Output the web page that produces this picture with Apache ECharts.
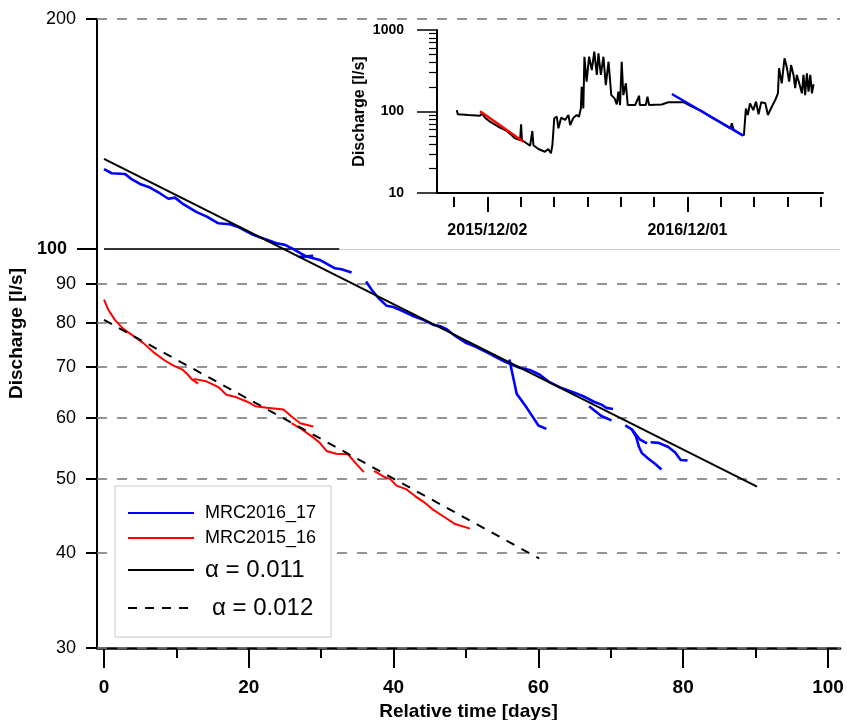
<!DOCTYPE html>
<html><head><meta charset="utf-8">
<script src="https://cdn.jsdelivr.net/npm/echarts@6/dist/echarts.min.js"></script>
<style>html,body{margin:0;padding:0;background:#fff}#c{width:847px;height:720px}</style>
</head><body><div id="c"></div>
<script>
const FONT = 'Liberation Sans, Arial, Helvetica, sans-serif';

// ---------- main chart data ----------
const xMajorTicks = [0, 20, 40, 60, 80, 100];
const xMinorTicks = [10, 30, 50, 70, 90];
const yTickValues = [30, 40, 50, 60, 70, 80, 90, 100, 200];
const yGridValues = [30, 40, 50, 60, 70, 80, 90, 200];
const refValue = 100;
const refBlackEnd = 32.5;

const blueSeg1 = [[0,127.2],[1.06,125.6],[2.9,125.3],[3.8,123.4],[4.97,121.6],[6.35,120.3],[7.5,118.6],[8.4,117.1],[8.9,116.3],[9.1,117.0],[9.8,116.7],[10.95,114.4],[12.8,111.7],[14.2,110.2],[15.8,108.0],[17.4,107.7],[18.55,106.8],[20.6,104.3],[22.2,103.0],[23.85,101.7],[25.0,101.2],[26.1,100.0],[27.3,98.5],[28.0,97.7],[29.8,96.7],[31.9,94.3],[32.8,94.0],[34.2,93.1]];
const blueSeg2 = [[27.0,97.6],[28.9,97.9]];
const blueSeg3 = [[36.2,90.6],[36.97,88.4],[37.9,86.2],[39.05,84.2],[39.96,83.9],[41.1,83.0],[42.5,81.8],[44.1,80.7],[45.5,79.5],[46.6,79.1],[47.3,78.5],[48.5,76.9],[49.9,75.4],[51.2,74.5],[52.9,73.2],[54.2,72.1],[55.4,71.1],[56.2,70.6],[57.5,69.8],[58.8,69.4],[60.2,68.4],[61.4,67.0],[63.2,65.7],[64.8,64.9],[66.2,64.1],[67.6,63.1],[68.7,62.5],[69.4,61.9],[70.3,61.7]];
const blueSeg4 = [[56.0,71.6],[56.3,69.4],[57.0,64.6],[58.4,61.9],[60.0,58.7],[61.1,58.1]];
const blueSeg5 = [[67.0,62.2],[68.7,60.4],[70.1,59.6]];
const blueSeg6 = [[72.0,58.7],[72.9,58.0],[73.5,56.7],[73.9,55.0],[74.3,54.0],[75.2,53.1],[76.1,52.3],[77.0,51.4]];
const blueSeg7 = [[72.9,58.0],[74.0,56.3],[75.0,55.6]];
const blueSeg8 = [[75.5,55.8],[76.6,55.7],[77.95,55.0],[78.9,54.1],[79.65,52.9],[80.6,52.8]];
const blueSegments = [blueSeg1, blueSeg2, blueSeg3, blueSeg4, blueSeg5, blueSeg6, blueSeg7, blueSeg8];

const redSeg1 = [[0,85.8],[0.6,83.2],[1.5,80.7],[2.7,78.5],[4.05,76.9],[5.4,75.3],[7.0,73.0],[8.4,71.4],[9.6,70.3],[10.9,69.4],[11.6,68.4],[12.1,67.5],[13.0,66.6]];
const redSeg2 = [[12.3,67.4],[12.6,67.5],[14.2,67.0],[15.8,65.9],[16.9,64.4],[18.3,63.9],[19.7,63.1],[20.9,62.2],[22.5,61.9],[24.8,61.6],[25.9,60.3],[27.1,59.1],[28.9,58.5]];
const redSeg3 = [[25.9,59.1],[27.1,58.2],[28.7,56.8],[29.8,55.7],[30.8,54.3],[32.1,53.9],[33.7,53.8],[34.9,52.2],[35.9,51.0]];
const redSeg4 = [[37.3,51.2],[38.8,50.2],[39.5,49.96],[40.4,48.96],[41.8,48.4],[43.0,47.4],[44.3,46.5],[45.5,45.5],[46.9,44.6],[48.5,43.6],[50.55,43.0]];
const redSegments = [redSeg1, redSeg2, redSeg3, redSeg4];

const fit011 = [[0,131.2],[90.2,48.8]];
const fit012 = [[0,80.7],[60.1,39.3]];

// ---------- inset data (days since 2015/12/02, discharge l/s) ----------
const insetOrigin = [2015, 12, 2];
const insetDays = [-55.8,-54,-34.6,-13.3,-10,-4.2,4.9,20,35.4,50.5,59.7,61.5,63,68.8,77.9,82,84,93,105,111,116,118.6,122,126.6,129.6,134.5,141.8,147.8,151,157,163,167,170.5,172,175,177,181,185.6,190.5,195,199.6,202.6,207,211.7,216,221,226,232,236,239,242,245,248,252.6,256,269.5,276.8,278,289,292,295,318,330,357.7,373,391,409.5,427.7,443,446,449,464,468,471.5,475,479,485,490,494.6,499.5,507,511.7,519,525,530,532,537,542,546,550.5,554,558.4,561.5,564.5,568.8,573.7,576.6,579.6,582.8,585.8,589,592,595];
const insetFlow = [104,92.4,90.6,88.8,95,84,75,65,57.7,46.9,44.7,69.7,44.7,41.9,38,57.7,38.5,34.7,32.1,34.7,30.7,38.8,82.6,86.3,62.2,84,78.7,90.6,68.2,84,90.6,86.3,109,201,109,470,232,470,323,542,281,518,281,470,211,408,159,145,122,175,120,408,159,222,120,120,156,120,120,152,120,122,130,130,115,101,84,71.6,62.2,71.6,59.3,51.5,51.5,109,90.6,126,104,132,92.4,130,126,90.6,115,138,167,339,222,450,355,232,372,281,193,281,222,167,281,159,294,175,281,167,216];
const insetRed = [[-13.3,101],[65.7,42.6]];
const insetBlue = [[336.5,164],[467,50.5]];
const insetTickDays = [-60.8,0,60.8,121.7,182.5,243.3,304.2,365,425.8,486.7,547.5,608.3];
const insetLabelDays = [0, 365];
const insetYMajor = [10, 100, 1000];
const insetYMinor = [20,30,40,50,60,70,80,90,200,300,400,500,600,700,800,900];

// ---------- build ----------
const DAY = 86400000;
const T0 = Date.UTC(insetOrigin[0], insetOrigin[1] - 1, insetOrigin[2]);
const pad2 = n => (n < 10 ? '0' : '') + n;
const fmtDay = d => { const t = new Date(T0 + Math.round(d) * DAY); return t.getUTCFullYear() + '/' + pad2(t.getUTCMonth() + 1) + '/' + pad2(t.getUTCDate()); };

const X_MIN = -0.97, X_MAX = 101.66;
const black = '#000';

const series = [];
series.push({
  type: 'line', xAxisIndex: 0, yAxisIndex: 0, data: [], silent: true, z: 1,
  markLine: {
    silent: true, symbol: ['none', 'none'], z: 1, animation: false,
    label: { show: false },
    lineStyle: { type: [10, 10], color: '#7a7a7a', width: 1.6 },
    data: yGridValues.map(v => ({ yAxis: v }))
      .concat([
        [{ coord: [0, refValue], lineStyle: { type: 'solid', color: '#333', width: 2 } }, { coord: [refBlackEnd, refValue] }],
        [{ coord: [refBlackEnd, refValue], lineStyle: { type: 'solid', color: '#c8c8c8', width: 1.2 } }, { coord: [X_MAX, refValue] }]
      ])
  }
});
blueSegments.forEach(seg => series.push({
  name: 'MRC2016_17', type: 'line', xAxisIndex: 0, yAxisIndex: 0, data: seg,
  symbol: 'none', lineStyle: { color: '#0000ff', width: 2.6 }, itemStyle: { color: '#0000ff' }, z: 3, animation: false
}));
redSegments.forEach(seg => series.push({
  name: 'MRC2015_16', type: 'line', xAxisIndex: 0, yAxisIndex: 0, data: seg,
  symbol: 'none', lineStyle: { color: '#ff0000', width: 2 }, itemStyle: { color: '#ff0000' }, z: 3, animation: false
}));
series.push({
  name: 'α = 0.011', type: 'line', xAxisIndex: 0, yAxisIndex: 0, data: fit011,
  symbol: 'none', lineStyle: { color: black, width: 2 }, itemStyle: { color: black }, z: 4, animation: false
});
series.push({
  name: 'α = 0.012', type: 'line', xAxisIndex: 0, yAxisIndex: 0, data: fit012,
  symbol: 'none', lineStyle: { color: black, width: 2, type: [9, 8] }, itemStyle: { color: black }, z: 4, animation: false
});
series.push({
  name: 'inset', type: 'line', xAxisIndex: 2, yAxisIndex: 2,
  data: insetDays.map((d, i) => [d, insetFlow[i]]),
  symbol: 'none', lineStyle: { color: black, width: 2 }, z: 3, animation: false
});
series.push({
  name: 'inset2015', type: 'line', xAxisIndex: 2, yAxisIndex: 2, data: insetRed,
  symbol: 'none', lineStyle: { color: '#ff0000', width: 2.5 }, z: 4, animation: false
});
series.push({
  name: 'inset2016', type: 'line', xAxisIndex: 2, yAxisIndex: 2, data: insetBlue,
  symbol: 'none', lineStyle: { color: '#0000ff', width: 2.5 }, z: 4, animation: false
});

const tickStyle = { color: black, width: 2 };
const IMIN = -91.9, IMAX = 612.2;

const legendRich = {
  m: { fontFamily: FONT, color: black, fontSize: 18, padding: [0, 0, 0, 6] },
  a: { fontFamily: FONT, color: black, fontSize: 24, padding: [0, 0, 0, 6] },
  b: { fontFamily: FONT, color: black, fontSize: 24, padding: [0, 0, 0, 13] }
};
const legendFmt = n => (n === 'α = 0.012' ? '{b|' + n + '}' : n === 'α = 0.011' ? '{a|' + n + '}' : '{m|' + n + '}');
const legendBase = (name, top, extra) => Object.assign({
  orient: 'vertical', left: 127, top: top, padding: 0,
  itemWidth: 66, itemHeight: 14, selectedMode: false,
  itemStyle: { opacity: 0 },
  textStyle: { fontFamily: FONT, color: black, fontSize: 18, rich: legendRich },
  formatter: legendFmt, data: [name], z: 6
}, extra || {});

const option = {
  backgroundColor: '#fff',
  animation: false,
  textStyle: { fontFamily: FONT, color: black },
  grid: [
    { left: 97, top: 19, right: 7, bottom: 72, outerBoundsMode: 'none', containLabel: false },
    { left: 437, top: 30, width: 386, height: 163, outerBoundsMode: 'none', containLabel: false }
  ],
  legend: [
    legendBase('MRC2016_17', 486, {
      left: 115, padding: [18, 15, 115, 12],
      backgroundColor: '#fff', borderColor: '#c8c8c8', borderWidth: 1, borderRadius: 0, z: 5
    }),
    legendBase('MRC2015_16', 529),
    legendBase('α = 0.011', 558),
    legendBase('α = 0.012', 596)
  ],
  xAxis: [
    {
      gridIndex: 0, type: 'value', min: X_MIN, max: X_MAX,
      axisLine: { show: true, onZero: false, lineStyle: { color: black, width: 2.5 } },
      axisTick: { show: true, customValues: xMajorTicks, length: 20, lineStyle: tickStyle },
      axisLabel: { customValues: xMajorTicks, fontFamily: FONT, fontWeight: 'bold', fontSize: 19, color: black, margin: 30 },
      splitLine: { show: false },
      name: 'Relative time [days]', nameLocation: 'middle', nameGap: 52,
      nameTextStyle: { fontFamily: FONT, fontWeight: 'bold', fontSize: 19, color: black }
    },
    {
      gridIndex: 0, type: 'value', min: X_MIN, max: X_MAX, position: 'bottom',
      axisLine: { show: false, onZero: false },
      axisTick: { show: true, customValues: xMinorTicks, length: 10, lineStyle: tickStyle },
      axisLabel: { show: false }, splitLine: { show: false }
    },
    {
      gridIndex: 1, type: 'value', min: IMIN, max: IMAX,
      axisLine: { show: true, onZero: false, lineStyle: { color: black, width: 2 } },
      axisTick: { show: false },
      axisLabel: { customValues: insetLabelDays, formatter: v => fmtDay(v), fontFamily: FONT, fontWeight: 'bold', fontSize: 16, color: black, margin: 30 },
      splitLine: { show: false }
    },
    {
      gridIndex: 1, type: 'value', min: IMIN, max: IMAX, position: 'bottom', offset: 4,
      axisLine: { show: false, onZero: false },
      axisTick: { show: true, customValues: insetTickDays, length: 10, lineStyle: tickStyle },
      axisLabel: { show: false }, splitLine: { show: false }
    },
    {
      gridIndex: 1, type: 'value', min: IMIN, max: IMAX, position: 'bottom', offset: 4,
      axisLine: { show: false, onZero: false },
      axisTick: { show: true, customValues: insetLabelDays, length: 15, lineStyle: tickStyle },
      axisLabel: { show: false }, splitLine: { show: false }
    }
  ],
  yAxis: [
    {
      gridIndex: 0, type: 'log', logBase: 10, min: 30, max: 200, position: 'left',
      axisLine: { show: true, onZero: false, lineStyle: { color: black, width: 2 } },
      axisTick: { show: true, customValues: yGridValues, length: 11, lineStyle: tickStyle },
      axisLabel: {
        customValues: yTickValues, margin: 21, fontFamily: FONT, fontSize: 18, color: black,
        formatter: v => (Math.abs(v - 100) < 0.01 ? '{b|100}' : '{n|' + Math.round(v) + '}'),
        rich: {
          b: { fontFamily: FONT, fontWeight: 'bold', fontSize: 18, color: black, padding: [0, 9, 0, 0] },
          n: { fontFamily: FONT, fontSize: 18, color: black }
        }
      },
      splitLine: { show: false },
      name: 'Discharge [l/s]', nameLocation: 'middle', nameGap: 62,
      nameTextStyle: { fontFamily: FONT, fontWeight: 'bold', fontSize: 19, color: black }
    },
    {
      gridIndex: 0, type: 'log', logBase: 10, min: 30, max: 200, position: 'left',
      axisLine: { show: false, onZero: false },
      axisTick: { show: true, customValues: [refValue], length: 20, lineStyle: tickStyle },
      axisLabel: { show: false }, splitLine: { show: false }
    },
    {
      gridIndex: 1, type: 'log', logBase: 10, min: 10, max: 1000, position: 'left',
      axisLine: { show: true, onZero: false, lineStyle: { color: black, width: 2 } },
      axisTick: { show: true, customValues: insetYMajor, length: 20, lineStyle: { color: black, width: 1.5 } },
      axisLabel: { customValues: insetYMajor, formatter: v => String(Math.round(v)), margin: 33, fontFamily: FONT, fontWeight: 'bold', fontSize: 14, color: black },
      splitLine: { show: false },
      name: 'Discharge [l/s]', nameLocation: 'middle', nameGap: 69,
      nameTextStyle: { fontFamily: FONT, fontWeight: 'bold', fontSize: 16, color: black }
    },
    {
      gridIndex: 1, type: 'log', logBase: 10, min: 10, max: 1000, position: 'left',
      axisLine: { show: false, onZero: false },
      axisTick: { show: true, customValues: insetYMinor, length: 8, lineStyle: { color: black, width: 1.2 } },
      axisLabel: { show: false }, splitLine: { show: false }
    }
  ],
  series: series
};

const chart = echarts.init(document.getElementById('c'), null, { renderer: 'canvas', width: 847, height: 720 });
chart.setOption(option);
</script>
</body></html>
